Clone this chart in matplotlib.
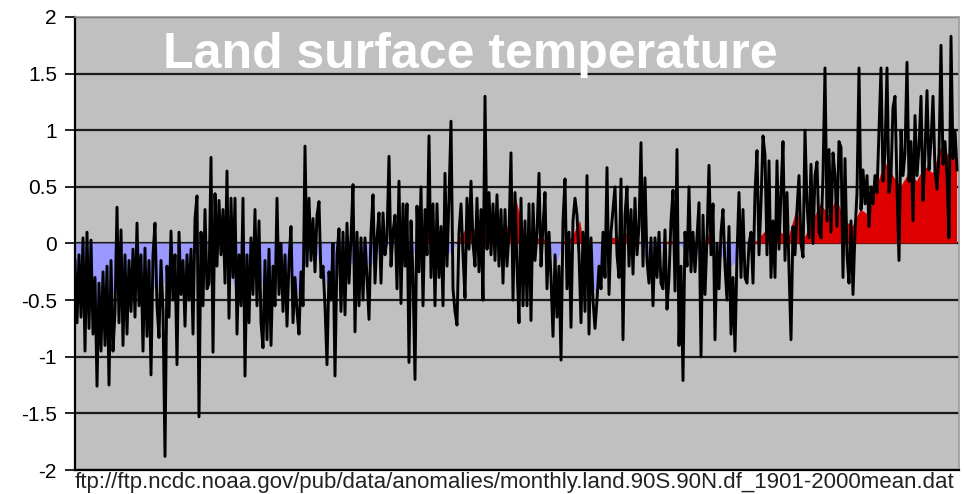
import numpy as np
import matplotlib
matplotlib.use("Agg")
import matplotlib.pyplot as plt

# monthly land anomaly (deg C), one value per step along the record
anomaly = [
    # 1st stretch
    -0.15, -0.70, -0.10, -0.65, 0.05, -0.95, 0.10, -0.75, 0.03, -0.80,
    -0.30, -1.26, -0.35, -0.95, -0.25, -0.90, -0.20, -1.25, -0.15, -0.95,
    -0.60, 0.32, -0.70, 0.12, -0.90, -0.10, -0.80, -0.15, -0.60, -0.05,
    -0.65, 0.18, -0.55, -0.10, -0.95, -0.04, -0.82, -0.15, -1.16, -0.10,
    0.18, -0.55, -0.83, -0.15, -0.60, -1.88, -0.20, -0.65, 0.11, -0.50,
    -0.10, -1.07, 0.10, -0.45, -0.15,
    # 2nd
    -0.73, -0.10, -0.50, -0.05, -0.80, 0.22, 0.42, -1.53, 0.10, -0.55,
    0.30, -0.40, -0.35, 0.76, -0.96, 0.44, -0.20, 0.38, -0.10, 0.30,
    -0.35, 0.64, -0.66, 0.40, -0.30, 0.40, -0.80, -0.10, -0.55, 0.40,
    -1.17, -0.10, -0.70, 0.05, -0.45, 0.30, -0.55, 0.20, -0.70, -0.92,
    -0.15, -0.85, -0.05, -0.90, -0.20, -0.55, 0.40, -0.45, 0.00, -0.60,
    -0.10, -0.73, -0.15, 0.15, -0.70,
    # 3rd
    -0.30, -0.60, -0.80, -0.25, -0.55, 0.86, -0.20, 0.40, -0.15, 0.22,
    -0.25, 0.25, 0.37, -0.30, -0.20, -0.55, -1.07, -0.25, -0.50, 0.00,
    -1.17, -0.10, 0.13, -0.60, 0.10, -0.63, 0.18, -0.35, 0.05, 0.52,
    -0.78, 0.10, -0.55, 0.05, -0.50, 0.05, -0.30, -0.67, 0.10, 0.43,
    -0.35, 0.05, 0.27, -0.35, 0.27, -0.10, 0.05, 0.77, -0.20, 0.10,
    0.25, -0.40, 0.55, -0.53, 0.35,
    # 4th
    -0.20, 0.35, -1.05, 0.20, -0.30, -1.20, 0.33, -0.25, 0.50, -0.55,
    0.30, -0.10, 0.95, -0.30, 0.35, -0.55, 0.35, -0.30, 0.15, -0.55,
    0.62, -0.20, 0.40, 1.08, -0.40, -0.60, -0.72, 0.10, 0.35, -0.10,
    -0.48, 0.40, -0.05, 0.55, 0.00, -0.20, 0.40, -0.25, 0.30, -0.50,
    1.30, -0.05, 0.45, -0.10, 0.35, -0.15, 0.43, -0.20, 0.30, -0.35,
    0.30, -0.20, 0.10, 0.80, -0.50,
    # 5th
    0.45, -0.20, -0.70, 0.40, -0.55, 0.20, -0.55, 0.35, -0.68, 0.35,
    -0.15, 0.10, 0.62, -0.20, 0.15, 0.45, -0.40, 0.10, -0.30, -0.82,
    -0.10, -0.65, -0.20, -1.03, 0.20, 0.57, -0.40, 0.10, -0.74, 0.20,
    0.40, 0.25, -0.10, -0.70, 0.10, -0.60, 0.60, -0.80, 0.05, -0.50,
    -0.75, -0.50, -0.20, -0.40, 0.10, -0.30, 0.67, -0.45, 0.10, 0.30,
    0.50, -0.10, -0.30, 0.57, -0.85,
    # 6th
    0.25, 0.50, -0.20, 0.30, -0.27, 0.40, -0.10, 0.15, 0.89, -0.20,
    0.58, -0.15, -0.35, 0.05, -0.55, 0.05, -0.30, 0.10, -0.35, -0.40,
    0.12, -0.58, -0.30, 0.20, 0.47, -0.42, 0.83, -0.90, -0.20, -1.21,
    0.10, -0.20, 0.50, -0.25, 0.10, -0.25, 0.05, 0.36, -1.00, 0.25,
    -0.45, 0.05, 0.69, -0.10, 0.35, -0.85, 0.00, -0.40, 0.10, 0.30,
    -0.20, -0.50, 0.15, -0.80, -0.30,
    # 7th
    -0.95, -0.10, 0.45, -0.30, 0.30, -0.30, -0.35, 0.00, 0.10, -0.35,
    0.45, 0.82, -0.10, 0.35, 0.95, 0.78, -0.10, 0.73, -0.30, 0.20,
    -0.30, 0.73, -0.05, 0.45, 0.90, -0.15, 0.45, -0.22, -0.85, 0.15,
    -0.10, 0.30, 0.60, 0.00, -0.12, 1.00, 0.35, 0.05, 0.70, 0.00,
    0.60, 0.72, 0.10, 0.05, 0.60, 1.55, 0.20, 0.83, 0.10, 0.80,
    0.60, 0.15, 0.90, 0.85, -0.30,
    # last
    0.75, -0.10, -0.35, 0.20, -0.45, 0.10, 0.45, 1.55, 0.30, 0.65,
    0.35, 0.60, 0.15, 0.50, 0.35, 0.60, 0.45, 1.00, 1.55, 0.55,
    0.80, 1.55, 0.45, 0.60, 1.20, 1.30, 0.50, -0.15, 1.00, 0.60,
    0.80, 1.60, 0.55, 0.90, 0.20, 1.13, 0.60, 0.85, 1.30, 0.38,
    0.80, 1.35, 0.65, 0.90, 1.30, 0.65, 0.48, 0.80, 1.75, 0.70,
    0.90, 0.60, 0.05, 1.83, 0.75, 1.00, 0.65,
]

# smoothed anomaly used for the red/blue area
smoothed = [
    -0.20, -0.40, -0.50, -0.55, -0.50, -0.40, -0.35, -0.35, -0.30, -0.45,
    -0.40, -0.35, -0.35, -0.40, -0.30, -0.10, -0.05, -0.02, -0.05, -0.15,
    -0.40, -0.40, -0.20, -0.30, -0.45, -0.40, -0.25, -0.30, -0.45, -0.10,
    -0.05, -0.30, -0.45, -0.25, -0.15, -0.20, -0.15, -0.20, -0.05, -0.02,
    0.00, -0.05, -0.10, -0.05, 0.22, -0.05, -0.10, -0.08, 0.05, 0.15,
    0.12, 0.10, 0.18, 0.12, 0.15, 0.40, 0.10, 0.02, 0.05, 0.02,
    -0.20, 0.02, 0.05, 0.20, -0.25, -0.45, -0.05, 0.05, 0.05, 0.10,
    0.08, -0.10, -0.20, -0.05, 0.02, 0.02, -0.05, -0.10, -0.10, 0.08,
    -0.05, -0.15, -0.20, -0.10, 0.02, 0.02, 0.10, 0.15, 0.10, 0.05,
    0.30, 0.05, 0.20, 0.35, 0.25, 0.40, 0.20, 0.15, 0.30, 0.25,
    0.50, 0.72, 0.60, 0.50, 0.62, 0.55, 0.68, 0.62, 0.85, 0.78,
    0.85,
]

y_ticks = [2, 1.5, 1, 0.5, 0, -0.5, -1, -1.5, -2]
title = "Land surface temperature"
source = "ftp://ftp.ncdc.noaa.gov/pub/data/anomalies/monthly.land.90S.90N.df_1901-2000mean.dat"


def main():
    plt.rcParams['font.family'] = ['Liberation Sans', 'DejaVu Sans']

    y = np.array(anomaly)
    x = np.arange(len(y))
    s = np.array(smoothed)
    xs = np.linspace(0, len(y) - 1, len(s))

    fig = plt.figure(figsize=(9.64, 4.94), dpi=100)
    ax = fig.add_axes([75 / 964, 24 / 494, 884 / 964, 453 / 494])
    ax.set_facecolor("#c0c0c0")

    # area: blue below zero, red above
    ax.fill_between(xs, 0, s, where=s <= 0, interpolate=True,
                    color="#9999ff", lw=0, zorder=2)
    ax.fill_between(xs, 0, s, where=s >= 0, interpolate=True,
                    color="#dd0000", lw=0, zorder=2)

    # thick monthly trace so the dense part reads as a solid band
    ax.plot(x, y, color="black", lw=2.1, zorder=3)

    ax.set_xlim(0, len(y))
    ax.set_ylim(-2, 2)
    ax.set_yticks(y_ticks)
    ax.set_yticklabels([("%g" % t) for t in y_ticks], fontsize=15)
    ax.set_xticks([])
    ax.tick_params(axis="y", length=7, width=1.2, pad=6, color="black")

    ax.yaxis.grid(True, color="#1a1a1a", lw=1.6)
    ax.set_axisbelow(True)
    for side in ["left", "bottom"]:
        ax.spines[side].set_color("black")
        ax.spines[side].set_linewidth(1.6)
    for side in ["top", "right"]:
        ax.spines[side].set_color("#9a9a9a")
        ax.spines[side].set_linewidth(1.2)

    ax.text(0.447, 0.887, title, transform=ax.transAxes, ha="center", va="baseline",
            color="white", fontsize=36, fontweight="bold", zorder=5)

    fig.text(75 / 964, 12 / 494, source, ha="left", va="center",
             fontsize=16, color="#222222")

    fig.savefig("out.png", dpi=100, facecolor="white")


if __name__ == "__main__":
    main()
